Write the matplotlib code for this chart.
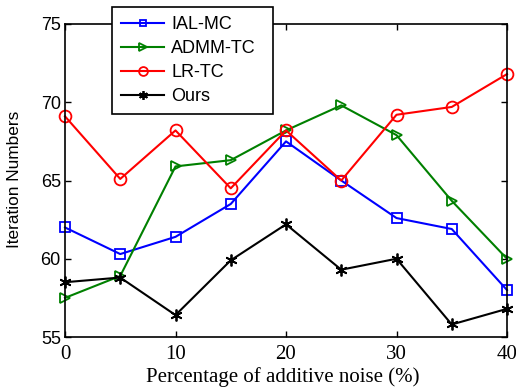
import matplotlib
matplotlib.use("Agg")
import matplotlib.pyplot as plt

noise = [0, 5, 10, 15, 20, 25, 30, 35, 40]
ial_mc = [62.0, 60.3, 61.4, 63.5, 67.5, 65.0, 62.6, 61.9, 58.0]
admm_tc = [57.5, 58.9, 65.9, 66.3, 68.2, 69.8, 67.9, 63.7, 60.0]
lr_tc = [69.1, 65.1, 68.2, 64.5, 68.2, 65.0, 69.2, 69.7, 71.8]
ours = [58.5, 58.8, 56.4, 59.9, 62.2, 59.3, 60.0, 55.8, 56.8]

series_names = ["IAL-MC", "ADMM-TC", "LR-TC", "Ours"]
x_ticks = [0, 10, 20, 30, 40]
y_ticks = [55, 60, 65, 70, 75]

W, H = 516, 388
fig = plt.figure(figsize=(W / 100, H / 100), dpi=100)
ax = fig.add_axes([65 / W, 1 - 337 / H, 442 / W, 313 / H])

sans = "Liberation Sans"
serif = "Liberation Serif"

ax.plot(noise, ial_mc, color="#0000ff", marker="s", ms=6.5, mfc="none", mew=1.3, lw=1.5,
        label=series_names[0], clip_on=False)
ax.plot(noise, admm_tc, color="#008000", marker=">", ms=7.5, mfc="none", mew=1.3, lw=1.5,
        label=series_names[1], clip_on=False)
ax.plot(noise, lr_tc, color="#ff0000", marker="o", ms=8.5, mfc="none", mew=1.3, lw=1.5,
        label=series_names[2], clip_on=False)
ax.plot(noise, ours, color="black", marker=(6, 2, 0), ms=8.5, mew=1.3, lw=1.5,
        label=series_names[3], clip_on=False)

ax.set_xlim(0, 40)
ax.set_ylim(55, 75)
ax.set_xticks(x_ticks)
ax.set_yticks(y_ticks)
ax.set_xticklabels([str(v) for v in x_ticks], fontfamily=serif, fontsize=15)
ax.set_yticklabels([str(v) for v in y_ticks], fontfamily=sans, fontsize=13)
ax.tick_params(direction="in", top=True, right=True, length=4, width=1)
ax.tick_params(axis="x", pad=6)
ax.tick_params(axis="y", pad=3)

for s in ax.spines.values():
    s.set_linewidth(1.2)

ax.set_xlabel("Percentage of additive noise (%)", fontfamily=serif, fontsize=15, va="top")
ax.xaxis.set_label_coords((282.5 - 65) / 442, (337 - 367) / 313)
ax.set_ylabel("Iteration Numbers", fontfamily=sans, fontsize=12.4)
ax.yaxis.set_label_coords((22 - 65) / 442, 0.505)

leg = ax.legend(loc="upper left",
                bbox_to_anchor=(112 / W, 1 - 113 / H, 161 / W, 106 / H),
                bbox_transform=fig.transFigure, mode="expand",
                prop={"family": sans, "size": 13},
                frameon=True, fancybox=False, edgecolor="black", framealpha=1,
                borderpad=0.52, handlelength=2.35, labelspacing=0.38, handletextpad=0.4,
                borderaxespad=0, markerscale=0.75)
leg.get_frame().set_linewidth(1.2)

fig.savefig("out.png", dpi=100)
